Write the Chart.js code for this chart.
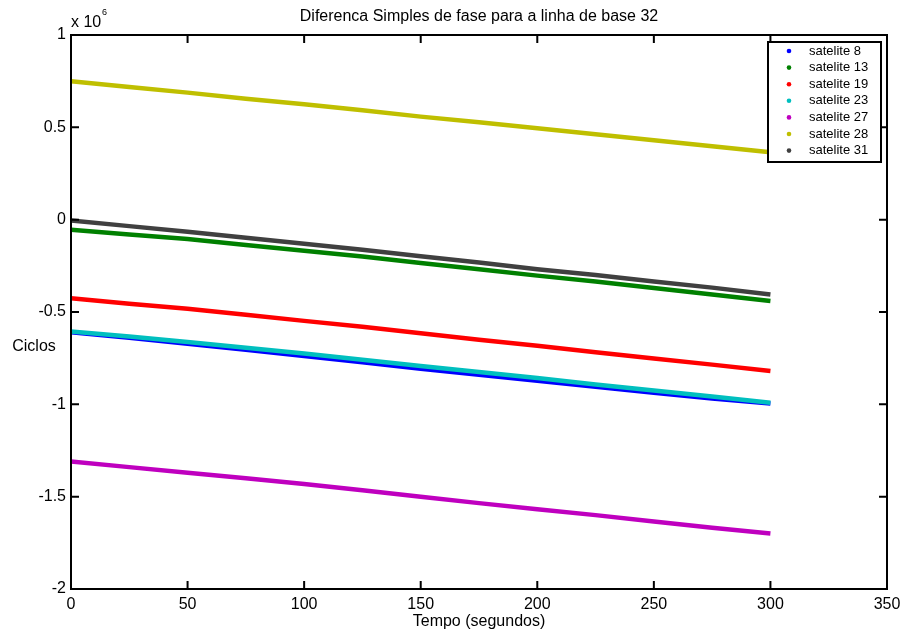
<!DOCTYPE html>
<html>
<head>
<meta charset="utf-8">
<script src="https://cdn.jsdelivr.net/npm/chart.js@4.4.1/dist/chart.umd.min.js"></script>
<style>
  html, body { margin: 0; padding: 0; background: #fff; }
  #wrap { width: 909px; height: 639px; position: relative; }
</style>
</head>
<body>
<div id="wrap"><canvas id="grafico"></canvas></div>
<script>
// --- dados (ciclos x 10^6) ---
const tempos = [0, 25, 50, 75, 100, 125, 150, 175, 200, 225, 250, 275, 300];

const sat8  = [-0.610, -0.640, -0.672, -0.705, -0.738, -0.772, -0.807, -0.840, -0.873, -0.905, -0.938, -0.968, -0.995];
const sat13 = [-0.055, -0.080, -0.105, -0.137, -0.168, -0.200, -0.235, -0.268, -0.303, -0.335, -0.370, -0.405, -0.440];
const sat19 = [-0.425, -0.455, -0.483, -0.515, -0.548, -0.580, -0.615, -0.650, -0.683, -0.718, -0.752, -0.785, -0.820];
const sat23 = [-0.605, -0.633, -0.662, -0.693, -0.725, -0.758, -0.792, -0.825, -0.858, -0.892, -0.925, -0.958, -0.992];
const sat27 = [-1.310, -1.340, -1.370, -1.400, -1.432, -1.465, -1.500, -1.535, -1.568, -1.600, -1.635, -1.668, -1.700];
const sat28 = [0.750, 0.718, 0.688, 0.655, 0.625, 0.593, 0.558, 0.527, 0.495, 0.463, 0.430, 0.398, 0.365];
const sat31 = [-0.005, -0.035, -0.066, -0.098, -0.130, -0.163, -0.198, -0.232, -0.268, -0.300, -0.335, -0.368, -0.405];

const rotulos = ['satelite 8', 'satelite 13', 'satelite 19', 'satelite 23', 'satelite 27', 'satelite 28', 'satelite 31'];
const series = [sat8, sat13, sat19, sat23, sat27, sat28, sat31];
const cores = ['#0000ff', '#008000', '#ff0000', '#00bfbf', '#bf00bf', '#bfbf00', '#404040'];

const xTicks = [0, 50, 100, 150, 200, 250, 300, 350];
const yTicks = [-2, -1.5, -1, -0.5, 0, 0.5, 1];

const FONTE = '"Liberation Sans", Arial, sans-serif';

// --- plugin: moldura, ticks internos, textos e legenda estilo MATLAB ---
const moldura = {
    id: 'moldura',
    afterDraw(chart) {
        const ctx = chart.ctx;
        const { left, right, top, bottom } = chart.chartArea;
        const sx = chart.scales.x, sy = chart.scales.y;
        ctx.save();
        ctx.strokeStyle = '#000';
        ctx.lineWidth = 2;
        ctx.strokeRect(left, top, right - left, bottom - top);

        // ticks para dentro nos quatro lados
        ctx.beginPath();
        xTicks.forEach(v => {
            const px = sx.getPixelForValue(v);
            ctx.moveTo(px, bottom); ctx.lineTo(px, bottom - 8);
            ctx.moveTo(px, top); ctx.lineTo(px, top + 8);
        });
        yTicks.forEach(v => {
            const py = sy.getPixelForValue(v);
            ctx.moveTo(left, py); ctx.lineTo(left + 8, py);
            ctx.moveTo(right, py); ctx.lineTo(right - 8, py);
        });
        ctx.stroke();

        ctx.fillStyle = '#000';
        // titulo
        ctx.font = '16px ' + FONTE;
        ctx.textAlign = 'center';
        ctx.textBaseline = 'middle';
        ctx.fillText('Diferenca Simples de fase para a linha de base 32', (left + right) / 2, 17);
        // eixo x
        ctx.fillText('Tempo (segundos)', (left + right) / 2, 622);
        // eixo y
        ctx.fillText('Ciclos', 34, 347);
        // multiplicador
        ctx.textAlign = 'left';
        ctx.textBaseline = 'alphabetic';
        ctx.fillText('x 10', 71, 27);
        ctx.font = '9px ' + FONTE;
        ctx.fillText('6', 102, 15);

        // legenda
        const lx = 768, ly = 42, lw = 113, lh = 120;
        ctx.fillStyle = '#fff';
        ctx.fillRect(lx, ly, lw, lh);
        ctx.strokeStyle = '#000';
        ctx.lineWidth = 2;
        ctx.strokeRect(lx, ly, lw, lh);
        ctx.font = '13px ' + FONTE;
        ctx.textBaseline = 'middle';
        rotulos.forEach((r, i) => {
            const yy = ly + 9 + i * 16.6;
            ctx.fillStyle = cores[i];
            ctx.beginPath();
            ctx.arc(789, yy, 2.3, 0, Math.PI * 2);
            ctx.fill();
            ctx.fillStyle = '#000';
            ctx.fillText(r, 809, yy);
        });
        ctx.restore();
    }
};

const datasets = series.map((s, i) => ({
    label: rotulos[i],
    data: tempos.map((t, j) => ({ x: t, y: s[j] })),
    borderColor: cores[i],
    backgroundColor: cores[i],
    borderWidth: 4.5,
    pointRadius: 0,
    tension: 0,
    order: series.length - i   // ultimos por cima, como no MATLAB
}));

new Chart(document.getElementById('grafico'), {
    type: 'line',
    data: { datasets },
    options: {
        responsive: true,
        maintainAspectRatio: false,
        animation: false,
        layout: { padding: { left: 0, top: 35, right: 22, bottom: 0 } },
        plugins: { legend: { display: false }, title: { display: false }, tooltip: { enabled: false } },
        scales: {
            x: {
                type: 'linear', min: 0, max: 350,
                afterBuildTicks: s => { s.ticks = xTicks.map(v => ({ value: v })); },
                afterFit: s => { s.height = 50; },
                grid: { display: false, drawTicks: false },
                border: { display: false },
                ticks: { color: '#000', padding: 6, font: { size: 16, family: FONTE }, maxRotation: 0, callback: v => String(v) }
            },
            y: {
                type: 'linear', min: -2, max: 1,
                afterBuildTicks: s => { s.ticks = yTicks.map(v => ({ value: v })); },
                afterFit: s => { s.width = 71; },
                grid: { display: false, drawTicks: false },
                border: { display: false },
                ticks: { color: '#000', padding: 5, font: { size: 16, family: FONTE }, callback: v => String(v) }
            }
        }
    },
    plugins: [moldura]
});
</script>
</body>
</html>
